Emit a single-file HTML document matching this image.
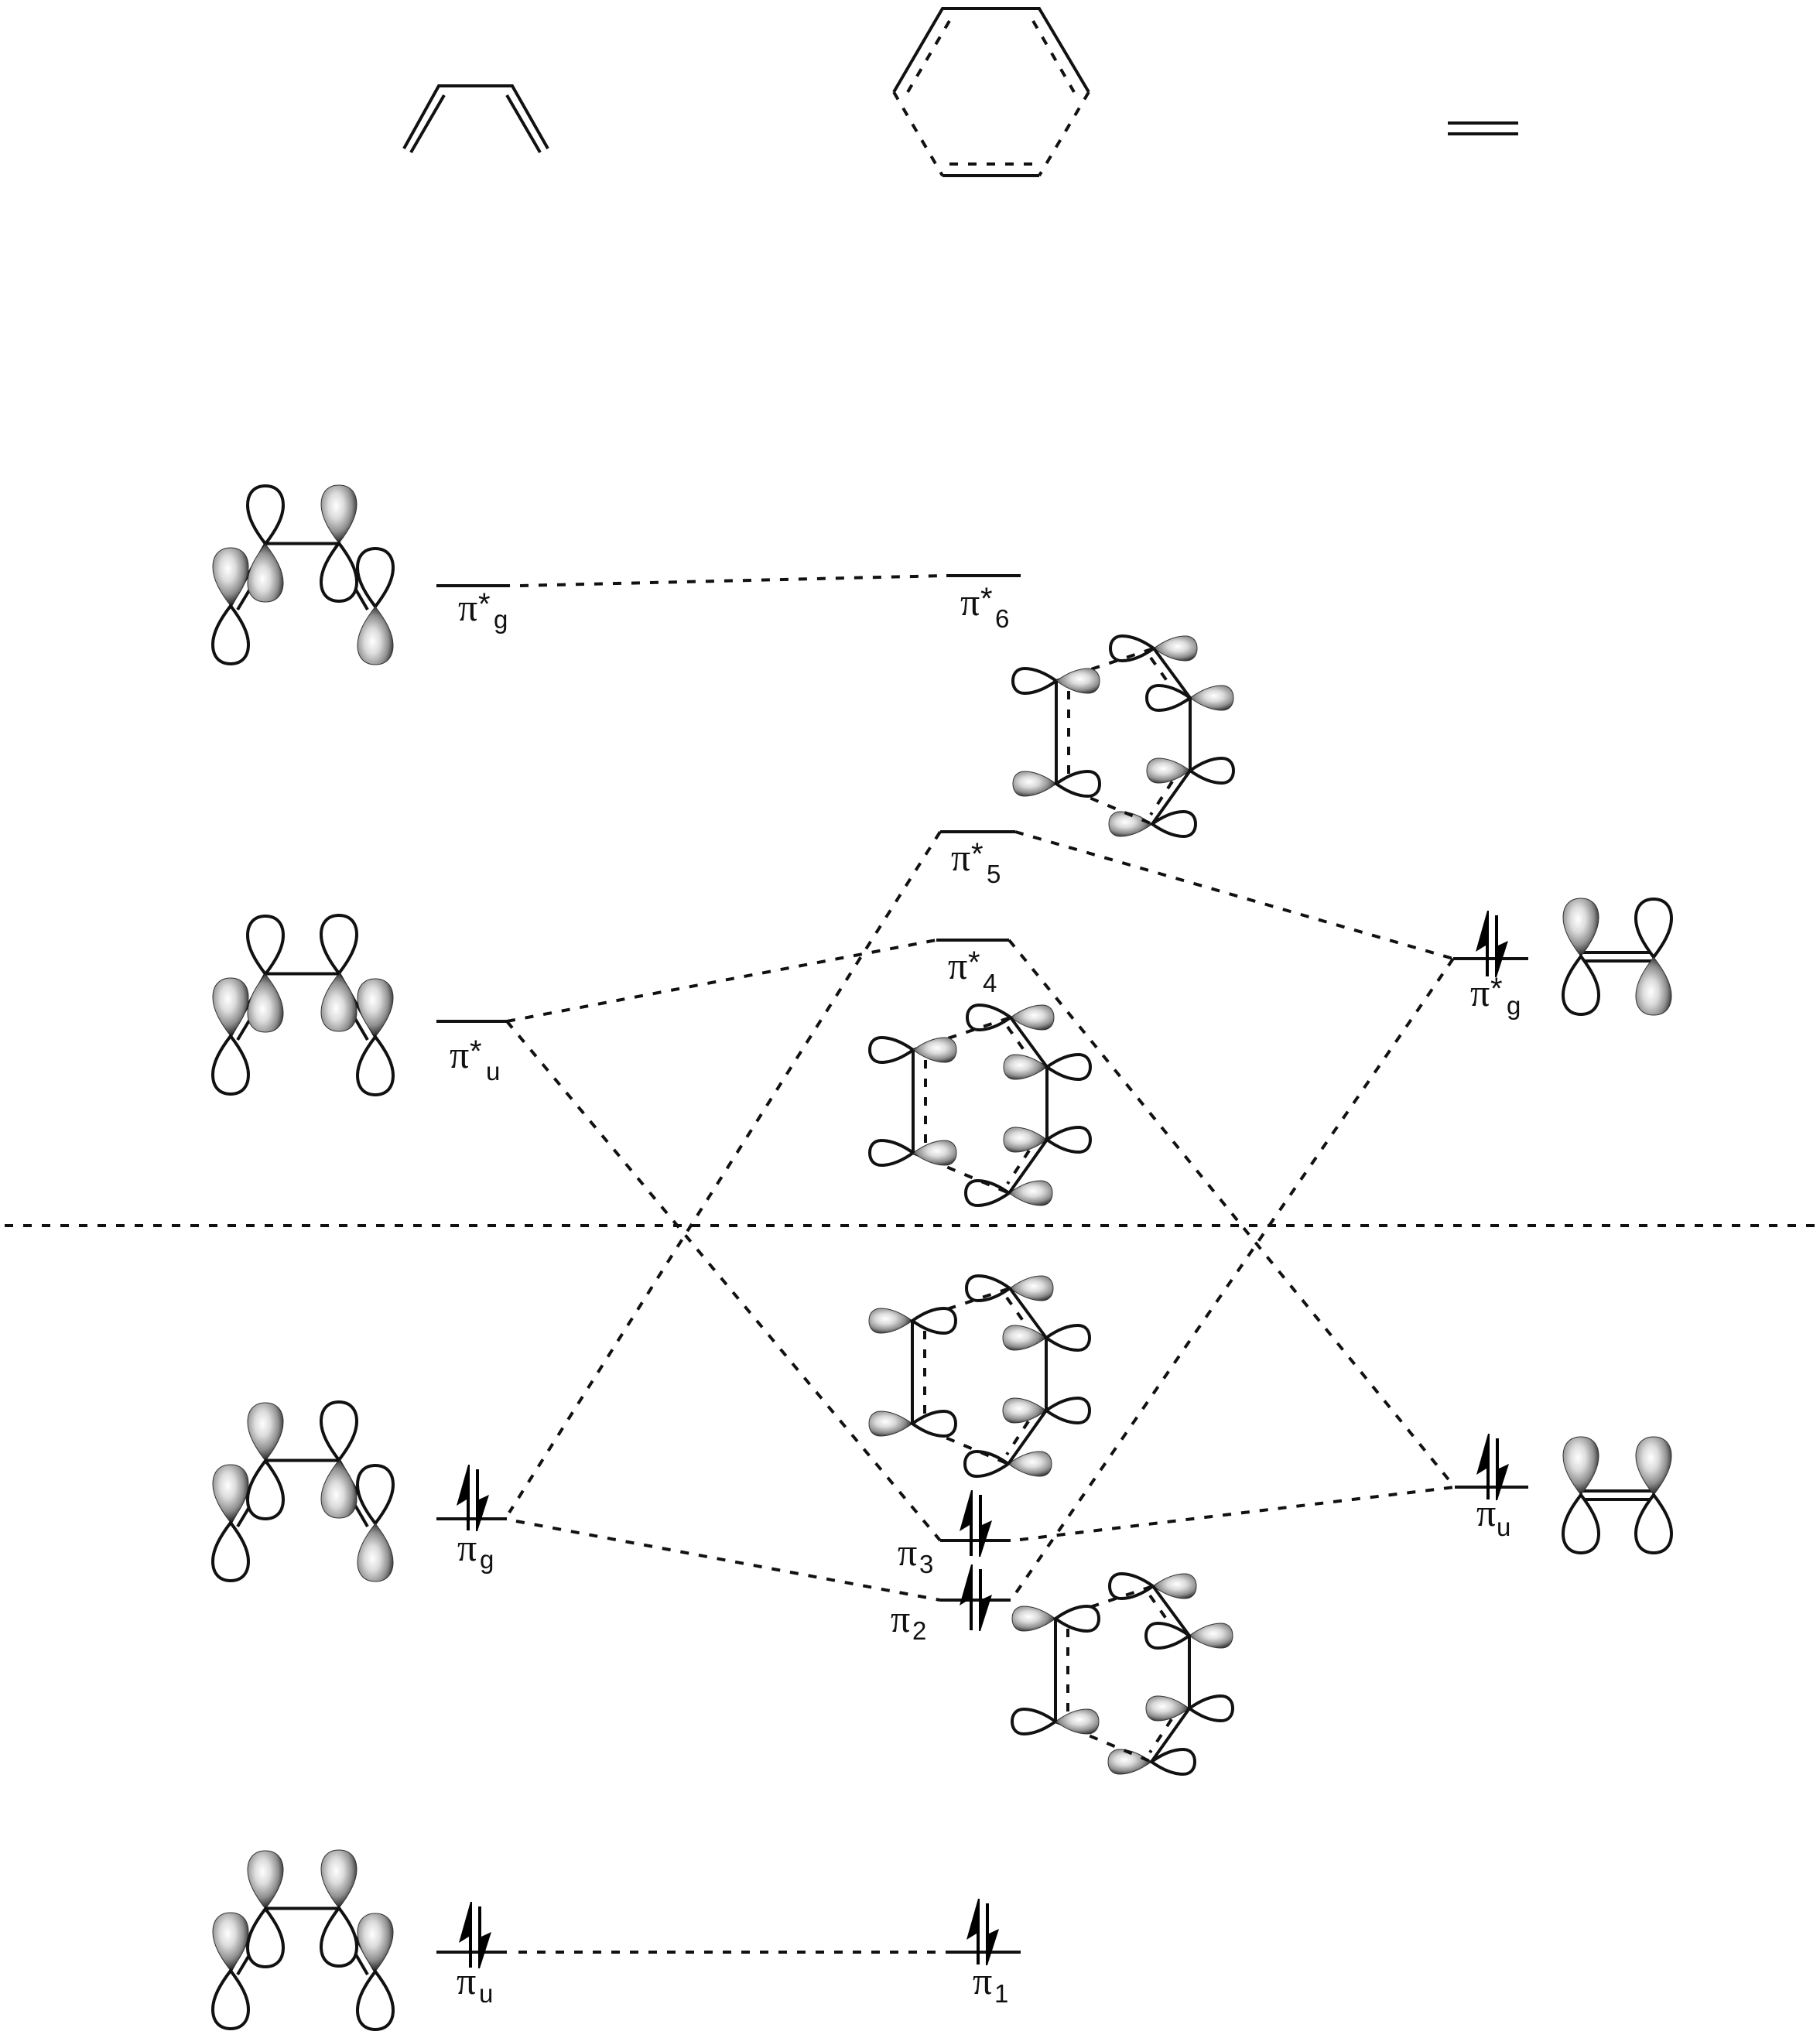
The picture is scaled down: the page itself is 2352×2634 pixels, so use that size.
<!DOCTYPE html>
<html><head><meta charset="utf-8"><title>MO diagram</title>
<style>html,body{margin:0;padding:0;background:#fff}svg{display:block}
.p{font:50px "Liberation Serif","DejaVu Serif",serif;fill:#111}
.s{font:33px "Liberation Sans",sans-serif;fill:#111}
.a{font:40px "Liberation Sans",sans-serif;fill:#111}
</style></head><body>
<svg width="2352" height="2634" viewBox="0 0 2352 2634" xmlns="http://www.w3.org/2000/svg">
<defs>
<radialGradient id="gu" cx=".42" cy=".36" r=".62"><stop offset="0" stop-color="#fff"/><stop offset=".35" stop-color="#dcdcdc"/><stop offset=".72" stop-color="#909090"/><stop offset="1" stop-color="#2a2a2a"/></radialGradient>
<radialGradient id="gd" cx=".42" cy=".6" r=".62"><stop offset="0" stop-color="#fff"/><stop offset=".35" stop-color="#dcdcdc"/><stop offset=".72" stop-color="#909090"/><stop offset="1" stop-color="#2a2a2a"/></radialGradient>
<radialGradient id="gr" cx=".55" cy=".42" r=".62"><stop offset="0" stop-color="#fff"/><stop offset=".35" stop-color="#dcdcdc"/><stop offset=".72" stop-color="#909090"/><stop offset="1" stop-color="#2a2a2a"/></radialGradient>
<radialGradient id="gl" cx=".38" cy=".42" r=".62"><stop offset="0" stop-color="#fff"/><stop offset=".35" stop-color="#dcdcdc"/><stop offset=".72" stop-color="#909090"/><stop offset="1" stop-color="#2a2a2a"/></radialGradient>
<path id="u" d="M0 0C-13 -17 -23 -34 -23 -50C-23 -66 -14 -75 0 -75C14 -75 23 -66 23 -50C23 -34 13 -17 0 0Z" fill="#fff" stroke="#111" stroke-width="4"/>
<path id="U" d="M0 0C-13 -17 -23 -34 -23 -50C-23 -66 -14 -75 0 -75C14 -75 23 -66 23 -50C23 -34 13 -17 0 0Z" fill="url(#gu)" stroke="#333" stroke-width="1"/>
<path id="d" d="M0 0C-13 17 -23 34 -23 50C-23 66 -14 75 0 75C14 75 23 66 23 50C23 34 13 17 0 0Z" fill="#fff" stroke="#111" stroke-width="4"/>
<path id="D" d="M0 0C-13 17 -23 34 -23 50C-23 66 -14 75 0 75C14 75 23 66 23 50C23 34 13 17 0 0Z" fill="url(#gd)" stroke="#333" stroke-width="1"/>
<path id="r" d="M0 0C14 -10 28 -16 41 -16C51 -16 56 -9 56 0C56 9 51 16 41 16C28 16 14 10 0 0Z" fill="#fff" stroke="#111" stroke-width="4"/>
<path id="R" d="M0 0C14 -10 28 -16 41 -16C51 -16 56 -9 56 0C56 9 51 16 41 16C28 16 14 10 0 0Z" fill="url(#gr)" stroke="#333" stroke-width="1"/>
<path id="l" d="M0 0C-14 -10 -28 -16 -41 -16C-51 -16 -56 -9 -56 0C-56 9 -51 16 -41 16C-28 16 -14 10 0 0Z" fill="#fff" stroke="#111" stroke-width="4"/>
<path id="L" d="M0 0C-14 -10 -28 -16 -41 -16C-51 -16 -56 -9 -56 0C-56 9 -51 16 -41 16C-28 16 -14 10 0 0Z" fill="url(#gl)" stroke="#333" stroke-width="1"/>
<g id="bb" stroke="#111" stroke-width="4" fill="none"><path d="M298 783L343 703M307 788L340 733M438 702L485 784M475 788L440 728"/></g>
<path id="bc" d="M343 702.500H438" stroke="#111" stroke-width="4" fill="none"/>
<g id="hd" stroke="#111" stroke-width="4" fill="none"><path d="M0 0L126 -42M0 133L124 185M16 13V122M122 -30L148 7M150 130L122 173" stroke-dasharray="11 13"/></g>
<g id="hs" stroke="#111" stroke-width="4" fill="none"><path d="M0 0V133M126 -42L173 22V116L124 185"/></g>
<g id="sp" fill="#000"><path d="M-2 -62H2V23H-2V-17L-15 -9L0 -62Z"/><path d="M10 -56H14V-17L27 -23L12 24H10Z"/></g>
</defs>
<rect width="2352" height="2634" fill="#fff"/>

<!-- top structures -->
<g stroke="#111" stroke-width="4" fill="none">
<path d="M522 192L567 111H662L708 192M531 197L574 123M698 197L655 123"/>
<path d="M1155 119L1218 11H1343L1407 119M1218 227H1343"/>
<g stroke-dasharray="11 13"><path d="M1155 119L1218 227M1407 119L1343 227M1227 27L1173 119M1335 27L1388 119M1227 212H1335"/></g>
<path d="M1871 159H1962M1871 173H1962"/>
</g>

<!-- energy levels -->
<g stroke="#111" stroke-width="4" fill="none">
<path d="M564 757H659M1223 744H1319M1215 1075H1312M1210 1215H1304M564 1320H655M1878 1239H1975M1880 1922H1975M564 1963H655M1215 1991H1306M1215 2068H1306M564 2523H655M1223 2523H1319"/>
<g stroke-dasharray="11 13"><path d="M672 757L1223 744M1312 1075L1878 1239M1215 1075L658 1955M655 1320L1210 1215M655 1320L1215 1991M1304 1215L1880 1922M1878 1239L1312 2060M1318 1990L1880 1922M667 1966L1215 2068M670 2523H1223M6 1584H2352"/></g>
</g>

<!-- spins -->
<use href="#sp" x="1922" y="1239"/><use href="#sp" x="1923" y="1915"/><use href="#sp" x="605" y="1955"/><use href="#sp" x="1255" y="1988"/><use href="#sp" x="1255" y="2084"/><use href="#sp" x="608" y="2520"/><use href="#sp" x="1264" y="2516"/>

<!-- butadiene orbitals -->
<g><use href="#bb"/><use href="#U" x="298" y="783"/><use href="#d" x="298" y="783"/><use href="#u" x="485" y="784"/><use href="#D" x="485" y="784"/><use href="#u" x="343" y="703"/><use href="#D" x="343" y="703"/><use href="#U" x="438" y="702"/><use href="#d" x="438" y="702"/><use href="#bc"/></g>
<g transform="translate(0,556)"><use href="#bb"/><use href="#U" x="298" y="783"/><use href="#d" x="298" y="783"/><use href="#U" x="485" y="784"/><use href="#d" x="485" y="784"/><use href="#u" x="343" y="703"/><use href="#D" x="343" y="703"/><use href="#u" x="438" y="702"/><use href="#D" x="438" y="702"/><use href="#bc"/></g>
<g transform="translate(0,1185)"><use href="#bb"/><use href="#U" x="298" y="783"/><use href="#d" x="298" y="783"/><use href="#u" x="485" y="784"/><use href="#D" x="485" y="784"/><use href="#U" x="343" y="703"/><use href="#d" x="343" y="703"/><use href="#u" x="438" y="702"/><use href="#D" x="438" y="702"/><use href="#bc"/></g>
<g transform="translate(0,1764)"><use href="#bb"/><use href="#U" x="298" y="783"/><use href="#d" x="298" y="783"/><use href="#U" x="485" y="784"/><use href="#d" x="485" y="784"/><use href="#U" x="343" y="703"/><use href="#d" x="343" y="703"/><use href="#U" x="438" y="702"/><use href="#d" x="438" y="702"/><use href="#bc"/></g>

<!-- hexagon orbitals -->
<g transform="translate(1365,880)"><use href="#l" x="126" y="-42"/><use href="#R" x="126" y="-42"/><use href="#L" x="124" y="185"/><use href="#r" x="124" y="185"/><use href="#hd"/><use href="#l"/><use href="#R"/><use href="#L" y="133"/><use href="#r" y="133"/><use href="#l" x="173" y="22"/><use href="#R" x="173" y="22"/><use href="#L" x="173" y="116"/><use href="#r" x="173" y="116"/><use href="#hs"/></g>
<g transform="translate(1180,1357)"><use href="#l" x="126" y="-42"/><use href="#R" x="126" y="-42"/><use href="#l" x="124" y="185"/><use href="#R" x="124" y="185"/><use href="#hd"/><use href="#l"/><use href="#R"/><use href="#l" y="133"/><use href="#R" y="133"/><use href="#L" x="173" y="22"/><use href="#r" x="173" y="22"/><use href="#L" x="173" y="116"/><use href="#r" x="173" y="116"/><use href="#hs"/></g>
<g transform="translate(1179,1707)"><use href="#l" x="126" y="-42"/><use href="#R" x="126" y="-42"/><use href="#l" x="124" y="185"/><use href="#R" x="124" y="185"/><use href="#hd"/><use href="#L"/><use href="#r"/><use href="#L" y="133"/><use href="#r" y="133"/><use href="#L" x="173" y="22"/><use href="#r" x="173" y="22"/><use href="#L" x="173" y="116"/><use href="#r" x="173" y="116"/><use href="#hs"/></g>
<g transform="translate(1364,2092)"><use href="#l" x="126" y="-42"/><use href="#R" x="126" y="-42"/><use href="#L" x="124" y="185"/><use href="#r" x="124" y="185"/><use href="#hd"/><use href="#L"/><use href="#r"/><use href="#l" y="133"/><use href="#R" y="133"/><use href="#l" x="173" y="22"/><use href="#R" x="173" y="22"/><use href="#L" x="173" y="116"/><use href="#r" x="173" y="116"/><use href="#hs"/></g>

<!-- ethylene orbitals -->
<g stroke="#111" stroke-width="4"><path d="M2043 1231H2137M2043 1242H2137M2043 1927H2137M2043 1938H2137"/></g>
<use href="#U" x="2043" y="1236"/><use href="#d" x="2043" y="1236"/><use href="#u" x="2137" y="1237"/><use href="#D" x="2137" y="1237"/>
<use href="#U" x="2043" y="1932"/><use href="#d" x="2043" y="1932"/><use href="#U" x="2137" y="1932"/><use href="#d" x="2137" y="1932"/>

<!-- labels -->
<text class="p" x="592" y="802">π</text><text class="a" x="618" y="794">*</text><text class="s" x="638" y="812">g</text>
<text class="p" x="1241" y="795">π</text><text class="a" x="1267" y="787">*</text><text class="s" x="1286" y="811">6</text>
<text class="p" x="1229" y="1125">π</text><text class="a" x="1255" y="1117">*</text><text class="s" x="1275" y="1141">5</text>
<text class="p" x="1225" y="1265">π</text><text class="a" x="1251" y="1257">*</text><text class="s" x="1270" y="1282">4</text>
<text class="p" x="581" y="1380">π</text><text class="a" x="607" y="1372">*</text><text class="s" x="628" y="1396">u</text>
<text class="p" x="1900" y="1300">π</text><text class="a" x="1926" y="1291">*</text><text class="s" x="1947" y="1311">g</text>
<text class="p" x="1908" y="1972">π</text><text class="s" x="1934" y="1985">u</text>
<text class="p" x="591" y="2017">π</text><text class="s" x="620" y="2027">g</text>
<text class="p" x="1160" y="2023">π</text><text class="s" x="1188" y="2033">3</text>
<text class="p" x="1151" y="2109">π</text><text class="s" x="1179" y="2119">2</text>
<text class="p" x="590" y="2577">π</text><text class="s" x="619" y="2588">u</text>
<text class="p" x="1257" y="2577">π</text><text class="s" x="1285" y="2588">1</text>
</svg>
</body></html>
